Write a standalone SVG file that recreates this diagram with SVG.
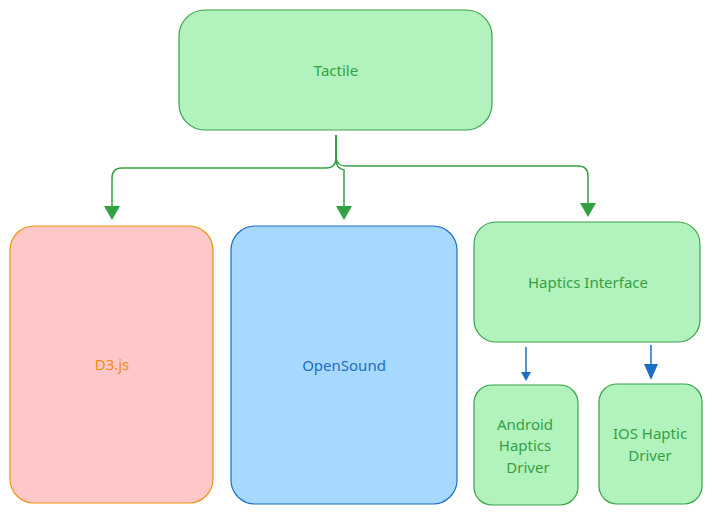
<svg xmlns="http://www.w3.org/2000/svg" width="712" height="516" viewBox="0 0 712 516">
<style>
.g rect{fill:#b1f2bd;stroke:#3aa24a;stroke-width:1.2}
.g text{fill:#36a143}
text{font-family:"Noto Sans","Open Sans",sans-serif;font-size:15px;text-anchor:middle}
.c{fill:none;stroke:#33a043;stroke-width:1.5}
.b{fill:none;stroke:#1c6fc4;stroke-width:1.5}
.ag{fill:#33a043}
.ab{fill:#1c6fc4}
</style>
<g id="tactile" class="g"><rect x="179" y="10" width="313" height="120" rx="26"/><text x="336" y="76">Tactile</text></g>
<g id="d3"><rect x="10" y="226" width="203" height="277" rx="24" fill="#ffc8c8" stroke="#f0920f" stroke-width="1.2"/><text x="112" y="370" fill="#f08c10">D3.js</text></g>
<g id="opensound"><rect x="231" y="226" width="226" height="278" rx="24" fill="#a7d8ff" stroke="#1c6fc4" stroke-width="1.2"/><text x="344" y="371" fill="#1c6fc4">OpenSound</text></g>
<g id="haptics" class="g"><rect x="474" y="222" width="226" height="120" rx="22"/><text x="588" y="288">Haptics Interface</text></g>
<g id="android" class="g"><rect x="474" y="385" width="104" height="120" rx="18"/><text x="525" y="430">Android</text><text x="525" y="451">Haptics</text><text x="528" y="473">Driver</text></g>
<g id="ios" class="g"><rect x="599" y="384" width="103" height="120" rx="18"/><text x="650" y="439">IOS Haptic</text><text x="650" y="461">Driver</text></g>
<g id="connectors">
<path class="c" d="M336,135 V158 Q336,168 326,168 H122 Q112,168 112,178 V207"/>
<path class="ag" d="M104,206 L120,206 L112,220 Z"/>
<path class="c" d="M336,135 V160 Q336,168 344,170 V207"/>
<path class="ag" d="M336,206 L352,206 L344,220 Z"/>
<path class="c" d="M336,135 V158 Q337,166 346,166 H578 Q588,166 588,176 V204"/>
<path class="ag" d="M580,203 L596,203 L588,217 Z"/>
<path class="b" d="M526,347 V374" stroke="#3a86d4"/>
<path class="ab" d="M521,372 L531,372 L526,381 Z"/>
<path class="b" d="M651,345 V366" stroke-width="2"/>
<path class="ab" d="M644,364 L658,364 L651,380 Z"/>
</g>
</svg>
